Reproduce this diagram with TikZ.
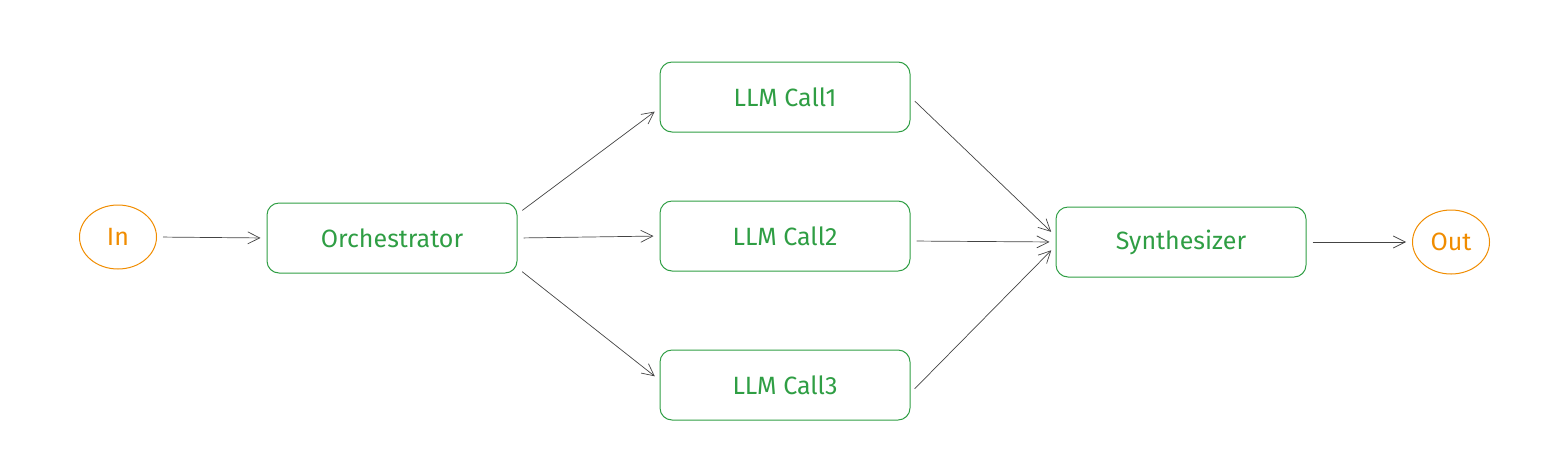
\documentclass[tikz,border=0pt]{standalone}
\usepackage{fontspec}
\setmainfont{Fira Sans}
\usepackage{xcolor}
\usetikzlibrary{arrows.meta, shapes.geometric}
\definecolor{callgreen}{HTML}{2F9E44}
\definecolor{ioorange}{HTML}{F08C00}
\definecolor{wire}{HTML}{444444}

\begin{document}
\begin{tikzpicture}[x=0.5pt, y=-0.5pt,
		stage/.style={draw=callgreen, text=callgreen, rounded corners=6pt, minimum width=125pt, minimum height=35pt, font=\fontsize{12.5}{15}\selectfont, line width=0.5pt},
		port/.style={draw=ioorange, text=ioorange, ellipse, minimum width=38.5pt, minimum height=32pt, inner sep=0pt, font=\fontsize{12.5}{15}\selectfont, line width=0.5pt},
		flow/.style={draw=wire, line width=0.35pt, -{Straight Barb[length=6pt, width=6pt, line width=0.35pt]}, shorten <=3pt, shorten >=3pt}]
				\useasboundingbox (0, 0) rectangle (1566, 467);
				\node[port] (in) at (118, 237) {In};
				\node[stage] (orch) at (392, 238) {Orchestrator};
				\node[stage] (call1) at (785, 97) {LLM Call1};
				\node[stage] (call2) at (785, 236) {LLM Call2};
				\node[stage] (call3) at (785, 385) {LLM Call3};
				\node[stage] (synth) at (1181, 242) {Synthesizer};
				\node[port] (out) at (1451, 242) {Out};
				\draw[flow] (in.east) -- (orch.west);
				\draw[flow] ([yshift=12pt]orch.east) -- ([yshift=-5.5pt]call1.west);
				\draw[flow] (orch.east) -- (call2.west);
				\draw[flow] ([yshift=-15pt]orch.east) -- ([yshift=2.5pt]call3.west);
				\draw[flow] (call1.east) -- ([yshift=3pt]synth.west);
				\draw[flow] ([yshift=-2.5pt]call2.east) -- (synth.west);
				\draw[flow] ([yshift=-4pt]call3.east) -- ([yshift=-2pt]synth.west);
				\draw[flow] (synth.east) -- (out.west);
			\end{tikzpicture}
\end{document}
